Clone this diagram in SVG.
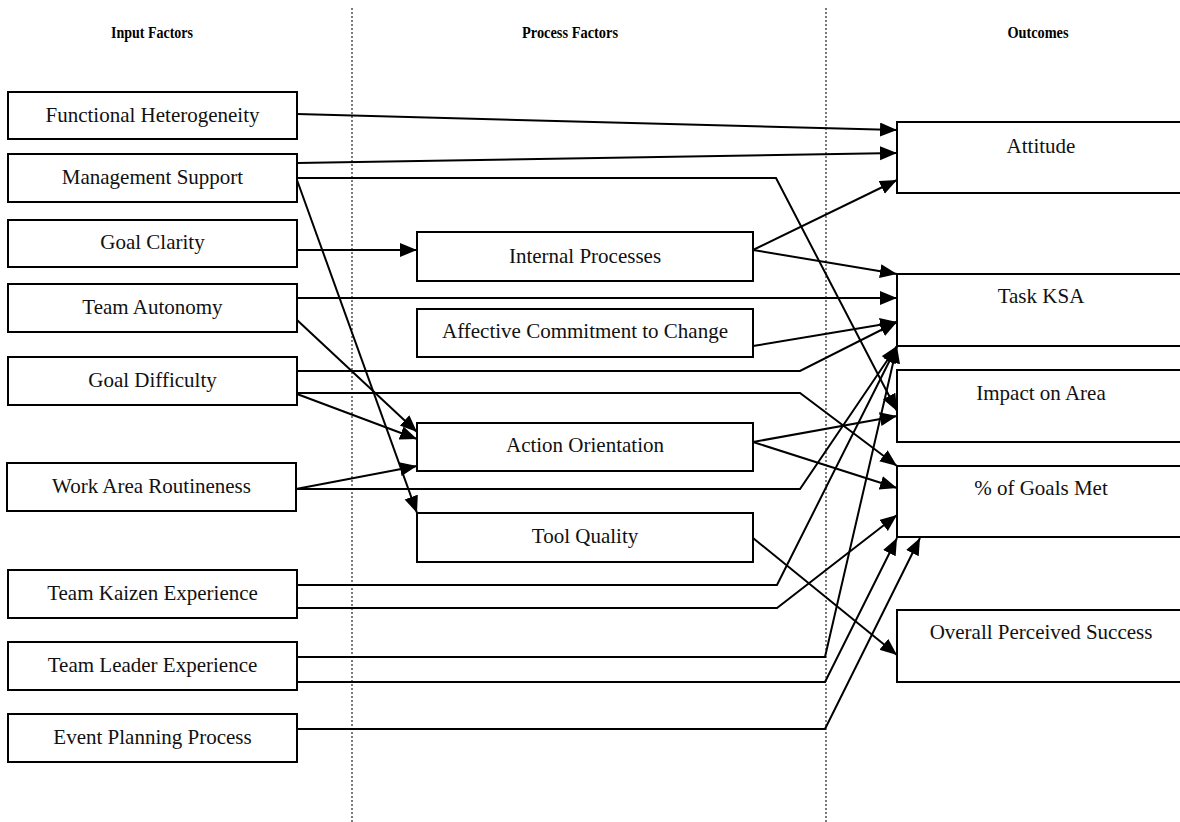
<svg xmlns="http://www.w3.org/2000/svg" width="1180" height="822" viewBox="0 0 1180 822">
<style>
.bg{fill:#fff}
.box{fill:#fff;stroke:#000;stroke-width:2}
.t{font-family:"Liberation Serif","Times New Roman",serif;font-size:21px;fill:#111;text-anchor:middle}
.h{font-family:"Liberation Serif","Times New Roman",serif;font-size:16px;font-weight:bold;fill:#000;text-anchor:middle}
.div{stroke:#333;stroke-width:1.3;stroke-dasharray:2 2;fill:none}
.c{fill:none;stroke:#000;stroke-width:2;marker-end:url(#ah)}
</style>
<defs>
<marker id="ah" markerUnits="userSpaceOnUse" markerWidth="18" markerHeight="15" refX="17" refY="7" orient="auto">
<path d="M0,0 L17,7 L0,14 z" fill="#000"/>
</marker>
</defs>
<rect class="bg" x="0" y="0" width="1180" height="822"/>
<g id="dividers">
<line class="div" x1="352" y1="8" x2="352" y2="822"/>
<line class="div" x1="826" y1="8" x2="826" y2="822"/>
</g>
<g id="headers">
<text class="h" x="152" y="38" textLength="82" lengthAdjust="spacingAndGlyphs">Input Factors</text>
<text class="h" x="570" y="38" textLength="96" lengthAdjust="spacingAndGlyphs">Process Factors</text>
<text class="h" x="1038" y="38" textLength="61" lengthAdjust="spacingAndGlyphs">Outcomes</text>
</g>
<g id="n-functional-heterogeneity"><rect class="box" x="8" y="92" width="289" height="47"/><text class="t" x="152.5" y="122">Functional Heterogeneity</text></g>
<g id="n-management-support"><rect class="box" x="8" y="154" width="289" height="48"/><text class="t" x="152.5" y="184">Management Support</text></g>
<g id="n-goal-clarity"><rect class="box" x="8" y="220" width="289" height="47"/><text class="t" x="152.5" y="249">Goal Clarity</text></g>
<g id="n-team-autonomy"><rect class="box" x="8" y="284" width="289" height="48"/><text class="t" x="152.5" y="314">Team Autonomy</text></g>
<g id="n-goal-difficulty"><rect class="box" x="8" y="357" width="289" height="48"/><text class="t" x="152.5" y="387">Goal Difficulty</text></g>
<g id="n-work-area-routineness"><rect class="box" x="7" y="463" width="289" height="48"/><text class="t" x="151.5" y="493">Work Area Routineness</text></g>
<g id="n-team-kaizen-experience"><rect class="box" x="8" y="570" width="289" height="48"/><text class="t" x="152.5" y="600">Team Kaizen Experience</text></g>
<g id="n-team-leader-experience"><rect class="box" x="8" y="642" width="289" height="48"/><text class="t" x="152.5" y="672">Team Leader Experience</text></g>
<g id="n-event-planning-process"><rect class="box" x="8" y="714" width="289" height="48"/><text class="t" x="152.5" y="744">Event Planning Process</text></g>
<g id="n-internal-processes"><rect class="box" x="417" y="232" width="336" height="49"/><text class="t" x="585" y="263">Internal Processes</text></g>
<g id="n-affective-commitment"><rect class="box" x="417" y="309" width="336" height="48"/><text class="t" x="585" y="338">Affective Commitment to Change</text></g>
<g id="n-action-orientation"><rect class="box" x="417" y="423" width="336" height="48"/><text class="t" x="585" y="452">Action Orientation</text></g>
<g id="n-tool-quality"><rect class="box" x="417" y="513" width="336" height="49"/><text class="t" x="585" y="543">Tool Quality</text></g>
<g id="n-attitude"><rect class="box" x="897" y="122" width="290" height="71"/><text class="t" x="1041" y="153">Attitude</text></g>
<g id="n-task-ksa"><rect class="box" x="897" y="274" width="290" height="72"/><text class="t" x="1041" y="303">Task KSA</text></g>
<g id="n-impact-on-area"><rect class="box" x="897" y="370" width="290" height="72"/><text class="t" x="1041" y="400">Impact on Area</text></g>
<g id="n-goals-met"><rect class="box" x="897" y="466" width="290" height="71"/><text class="t" x="1041" y="495">% of Goals Met</text></g>
<g id="n-overall-success"><rect class="box" x="897" y="610" width="290" height="72"/><text class="t" x="1041" y="639">Overall Perceived Success</text></g>
<g id="connectors">
<path class="c" d="M297,114 L897,130"/>
<path class="c" d="M297,163 L897,153"/>
<path class="c" d="M297,178 L776,178 L897,411"/>
<path class="c" d="M297,180 L417,513"/>
<path class="c" d="M297,250 L417,250"/>
<path class="c" d="M753,250 L897,180"/>
<path class="c" d="M753,250 L897,274"/>
<path class="c" d="M297,298 L897,298"/>
<path class="c" d="M297,320 L417,432"/>
<path class="c" d="M753,346 L897,322"/>
<path class="c" d="M297,371 L800,371 L897,322"/>
<path class="c" d="M297,393 L800,393 L897,466"/>
<path class="c" d="M297,394 L417,439"/>
<path class="c" d="M296,489 L417,466"/>
<path class="c" d="M296,489 L800,489 L897,346"/>
<path class="c" d="M753,442 L897,416"/>
<path class="c" d="M753,442 L897,488"/>
<path class="c" d="M753,538 L897,655"/>
<path class="c" d="M297,585 L777,585 L897,346"/>
<path class="c" d="M297,608 L777,608 L897,515"/>
<path class="c" d="M297,657 L825,657 L897,346"/>
<path class="c" d="M297,682 L825,682 L897,538"/>
<path class="c" d="M297,729 L825,729 L920,538"/>
</g>
</svg>
